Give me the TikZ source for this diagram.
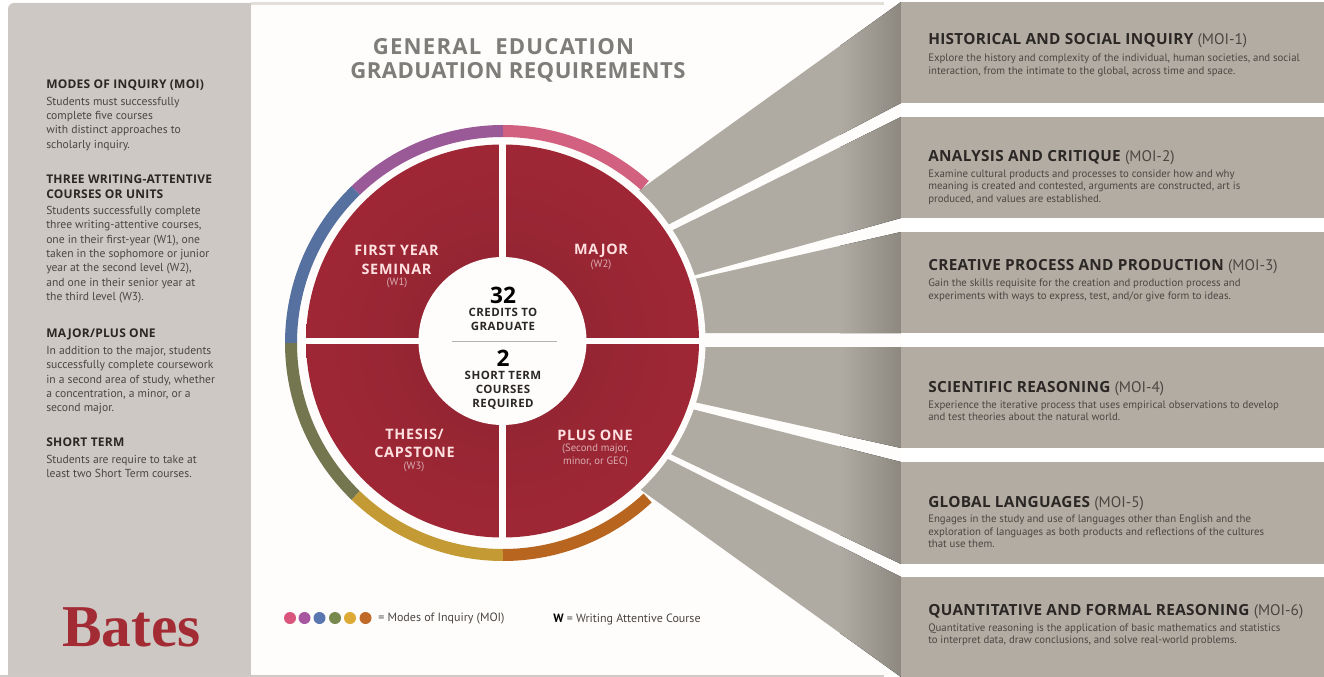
\documentclass[tikz,border=0pt]{standalone}
\usepackage{fontspec}
\setmainfont{PT Sans}
\newfontfamily\logofont{Liberation Serif}
\newfontfamily\headfont{Open Sans}
\newfontfamily\moifont[LetterSpace=2]{Open Sans}
\newfontfamily\sidefont[LetterSpace=2]{Open Sans}
\newfontfamily\wheelfont[LetterSpace=5]{Open Sans}
\newfontfamily\hubfont[LetterSpace=4]{Open Sans}
\newfontfamily\titlefontA[LetterSpace=5.5]{Open Sans}
\newfontfamily\titlefontB[LetterSpace=2]{Open Sans}
\definecolor{panel}{HTML}{CDC8C4}
\definecolor{boxc}{HTML}{B2ACA3}
\definecolor{fanlight}{HTML}{B0ABA2}
\definecolor{fandark}{HTML}{8C8880}
\definecolor{wheelin}{HTML}{8E2431}
\definecolor{wheelout}{HTML}{9F2735}
\definecolor{wheelred}{HTML}{9B2533}
\definecolor{batesred}{HTML}{A32B33}
\definecolor{titlegray}{HTML}{7F7D7A}
\definecolor{ink}{HTML}{2B2725}
\definecolor{soft}{HTML}{4C4642}
\definecolor{rulegray}{HTML}{E2DED8}
\definecolor{botgray}{HTML}{CFCAC5}
\definecolor{paper}{HTML}{FEFDFB}
\definecolor{rpink}{HTML}{D2607F}
\definecolor{rpurple}{HTML}{9A5A98}
\definecolor{rblue}{HTML}{56719F}
\definecolor{rolive}{HTML}{747650}
\definecolor{ryellow}{HTML}{C49A35}
\definecolor{rorange}{HTML}{B8651F}
\definecolor{dpink}{HTML}{D9557C}
\definecolor{dpurple}{HTML}{A6579F}
\definecolor{dblue}{HTML}{5A76B0}
\definecolor{dgreen}{HTML}{77894D}
\definecolor{dyellow}{HTML}{DCAA35}
\definecolor{dorange}{HTML}{BF6A28}
\tikzset{
 lefthead/.style={anchor=north west,align=left,inner sep=0pt,text=ink,font=\sidefont\fontsize{9}{10.7}\selectfont\bfseries},
 leftbody/.style={anchor=north west,align=left,inner sep=0pt,text=soft,font=\fontsize{8.7}{10.75}\selectfont},
 moititle/.style={anchor=base west,inner sep=0pt,text=ink,font=\moifont\fontsize{11.5}{12}\selectfont\bfseries},
 moibody/.style={anchor=north west,align=left,inner sep=0pt,text=soft,font=\fontsize{8.1}{9.4}\selectfont},
 wheelhead/.style={anchor=center,align=center,inner sep=0pt,text=white!88!red,font=\wheelfont\fontsize{10.8}{13.8}\selectfont\bfseries},
 wheelsub/.style={anchor=center,align=center,inner sep=0pt,text=white!62!wheelred,font=\fontsize{8}{10}\selectfont},
 hubnum/.style={anchor=center,inner sep=0pt,text=black,font=\headfont\fontsize{17}{17}\selectfont\bfseries},
 hubtext/.style={anchor=center,align=center,inner sep=0pt,text=ink,font=\hubfont\fontsize{8.6}{10.5}\selectfont\bfseries},
 legendtext/.style={anchor=west,inner sep=0pt,text=soft,font=\fontsize{9}{10}\selectfont},
 maintitleA/.style={anchor=center,inner sep=0pt,text=titlegray,font=\titlefontA\fontsize{16.6}{18}\selectfont\bfseries},
 maintitleB/.style={anchor=center,inner sep=0pt,text=titlegray,font=\titlefontB\fontsize{16.6}{18}\selectfont\bfseries},
 ringarc/.style={line width=9pt,line cap=butt},
 legenddot/.style={circle,inner sep=0pt,minimum size=9pt},
}
\newcommand{\mois}[1]{{\normalfont\color{soft}#1}}
\newcommand{\fan}[4]{%
 \begin{scope}
  \clip #1 -- #2 -- #3 -- #4 -- cycle;
  \fill[fanlight] (620,0) rectangle (840,677);
  \fill[left color=fanlight,right color=fandark] (840,0) rectangle (902,677);
 \end{scope}}
\begin{document}
\begin{tikzpicture}[x=0.75pt,y=-0.75pt]
\useasboundingbox (0,0) rectangle (1324,677);
\fill[white] (0,0) rectangle (1324,677);
\begin{scope}
 \clip (0,0) rectangle (1324,677);
 \fill[panel,rounded corners=4.5pt] (8,3) rectangle (260,690);
\end{scope}
\fill[paper] (251,4) rectangle (901,675);
\fill[rulegray] (251,2) rectangle (884,5);
\fill[botgray] (0,675) rectangle (884,677);
% fans
\fan{(901,2)}{(901,103)}{(660,229)}{(630,197)}
\fan{(901,117)}{(901,218)}{(685,278)}{(665,234)}
\fan{(901,232)}{(901,333)}{(690,333)}{(690,280)}
\fan{(901,347)}{(901,448)}{(685,400)}{(690,347)}
\fan{(901,462)}{(901,564)}{(660,449)}{(680,406)}
\fan{(901,577)}{(901,677)}{(630,482)}{(660,455)}
% boxes
\foreach \t/\b in {2/103,117/218,232/333,347/448,462/564,577/677}
  \fill[boxc] (901,\t) rectangle (1324,\b);
% wheel
\coordinate (hub) at (502.5,341);
\coordinate (ringc) at (503,343);
\fill[paper] (hub) circle[radius=203];
\foreach \a/\b/\c in {90/48/rpink,134/90/rpurple,180/134/rblue,226/180/rolive,270/226/ryellow,313/270/rorange}
  \draw[ringarc,color=\c] (ringc) ++(-\a:212) arc[start angle=-\a,end angle=-\b,radius=212];
\shade[inner color=wheelin,outer color=wheelout] (hub) circle[radius=196.5];
\draw[paper,line width=4.7pt] (502.5,141) -- (502.5,541);
\draw[paper,line width=4.7pt] (303,341) -- (703,341);
\fill[paper] (hub) circle[radius=84];
\draw[gray!60,line width=0.8pt] (452,341.5) -- (557,341.5);
% title
\node[maintitleA] (t1) at (503.5,47) {GENERAL\ \ EDUCATION};
\node[maintitleB] (t2) at (518,72) {GRADUATION REQUIREMENTS};
% wheel text
\node[wheelhead] (q1) at (396.5,260) {FIRST YEAR\\SEMINAR};
\node[wheelsub] (q1s) at (397,282.5) {(W1)};
\node[wheelhead] (q2) at (601,251) {MAJOR};
\node[wheelsub] (q2s) at (601,265) {(W2)};
\node[wheelhead] (q3) at (414.5,443.5) {THESIS/\\CAPSTONE};
\node[wheelsub] (q3s) at (414,466.5) {(W3)};
\node[wheelhead] (q4) at (595,435) {PLUS ONE};
\node[wheelsub] (q4s) at (595.5,455.5) {(Second major,\\minor, or GEC)};
\node[hubnum] (n32) at (503,295) {32};
\node[hubtext] (h1) at (503,319) {CREDITS TO\\GRADUATE};
\node[hubnum] (n2) at (503,358.5) {2};
\node[hubtext] (h2) at (503,390.5) {SHORT TERM\\COURSES\\REQUIRED};
% left panel
\node[lefthead] (l1) at (46,79.5) {MODES OF INQUIRY (MOI)};
\node[leftbody] (l2) at (46,96.5) {Students must successfully\\complete five courses\\with distinct approaches to\\scholarly inquiry.};
\node[lefthead] (l3) at (46,175) {THREE WRITING-ATTENTIVE\\COURSES OR UNITS};
\node[leftbody] (l4) at (46,206) {Students successfully complete\\three writing-attentive courses,\\one in their first-year (W1), one\\taken in the sophomore or junior\\year at the second level (W2),\\and one in their senior year at\\the third level (W3).};
\node[lefthead] (l5) at (46,329) {MAJOR/PLUS ONE};
\node[leftbody] (l6) at (46,346) {In addition to the major, students\\successfully complete coursework\\in a second area of study, whether\\a concentration, a minor, or a\\second major.};
\node[lefthead] (l7) at (46,438) {SHORT TERM};
\node[leftbody] (l8) at (46,455) {Students are require to take at\\least two Short Term courses.};
\node[anchor=base west,inner sep=0pt,text=batesred,font=\logofont\fontsize{44.5}{44}\selectfont\bfseries] (logo) at (62,646) {Bates};
% legend
\foreach \n/\x/\c in {a/290/dpink,b/304.5/dpurple,c/319.5/dblue,d/335/dgreen,e/350/dyellow,f/365.5/dorange}
  \node[legenddot,fill=\c] (dot\n) at (\x,618) {};
\node[legendtext] (lg1) at (378,619) {= Modes of Inquiry (MOI)};
\node[legendtext] (lg2) at (553,619) {{\bfseries\color{black}W} = Writing Attentive Course};
% right text
\node[moititle] (m1) at (928,45) {HISTORICAL AND SOCIAL INQUIRY \mois{(MOI-1)}};
\node[moibody] (b1) at (928,54) {Explore the history and complexity of the individual, human societies, and social\\interaction, from the intimate to the global, across time and space.};
\node[moititle] (m2) at (928,162) {ANALYSIS AND CRITIQUE \mois{(MOI-2)}};
\node[moibody] (b2) at (928,169.5) {Examine cultural products and processes to consider how and why\\meaning is created and contested, arguments are constructed, art is\\produced, and values are established.};
\node[moititle] (m3) at (928,271) {CREATIVE PROCESS AND PRODUCTION \mois{(MOI-3)}};
\node[moibody] (b3) at (928,279) {Gain the skills requisite for the creation and production process and\\experiments with ways to express, test, and/or give form to ideas.};
\node[moititle] (m4) at (928,392) {SCIENTIFIC REASONING \mois{(MOI-4)}};
\node[moibody] (b4) at (928,400.5) {Experience the iterative process that uses empirical observations to develop\\and test theories about the natural world.};
\node[moititle] (m5) at (928,507) {GLOBAL LANGUAGES \mois{(MOI-5)}};
\node[moibody] (b5) at (928,515) {Engages in the study and use of languages other than English and the\\exploration of languages as both products and reflections of the cultures\\that use them.};
\node[moititle] (m6) at (928,615.5) {QUANTITATIVE AND FORMAL REASONING \mois{(MOI-6)}};
\node[moibody] (b6) at (928,623.5) {Quantitative reasoning is the application of basic mathematics and statistics\\to interpret data, draw conclusions, and solve real-world problems.};
\end{tikzpicture}
\end{document}
